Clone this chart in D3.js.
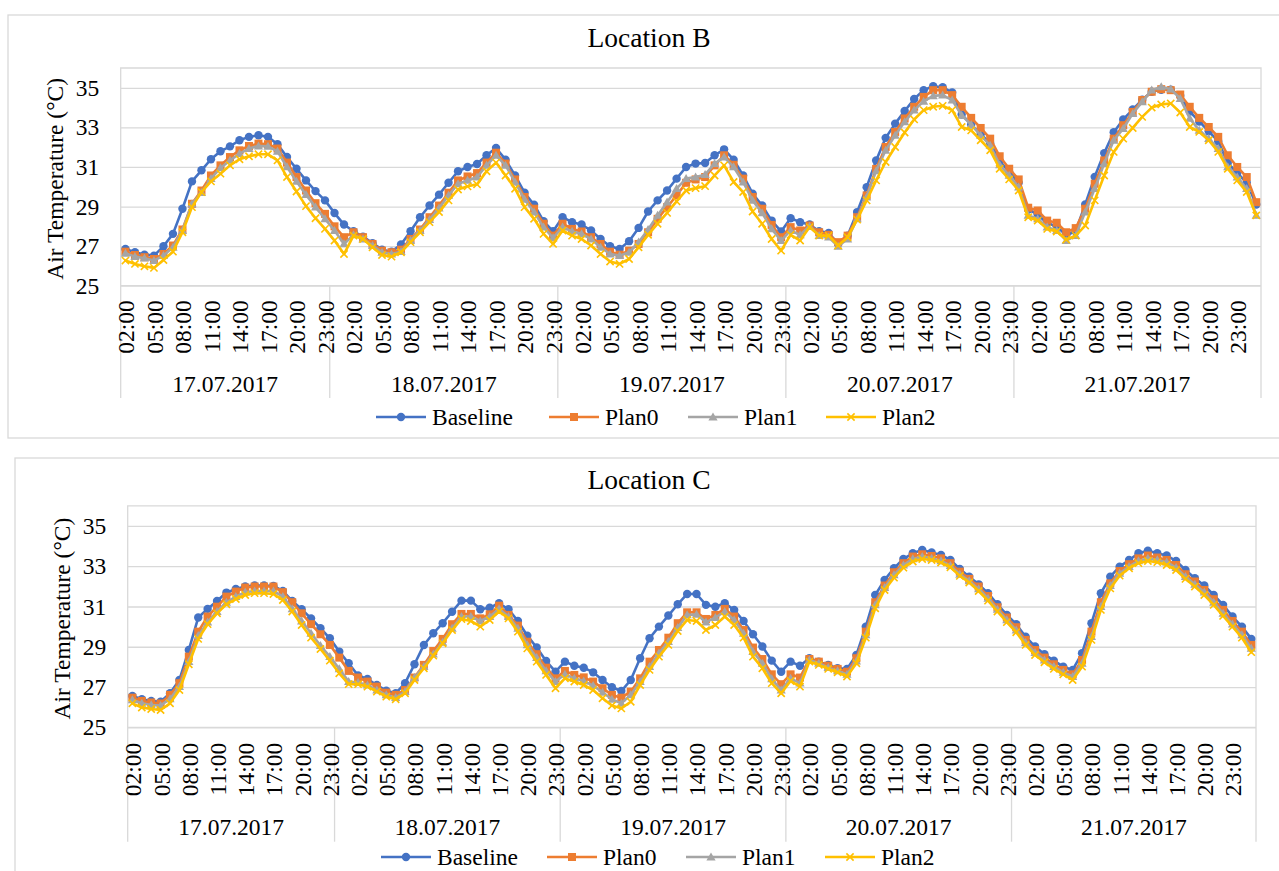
<!DOCTYPE html>
<html>
<head>
<meta charset="utf-8">
<script src="https://cdn.jsdelivr.net/npm/d3@7"></script>
<style>
  html, body { margin: 0; padding: 0; background: #ffffff; }
  svg { display: block; }
</style>
</head>
<body>
<svg id="chart" width="1279" height="871"></svg>
<script>
// ---- categories: hourly readings grouped by day ----
const days = ["17.07.2017", "18.07.2017", "19.07.2017", "20.07.2017", "21.07.2017"];
const dayCounts = [22, 24, 24, 24, 26];
const firstHour = 2;
const labelEvery = 3;
const yTicks = [25, 27, 29, 31, 33, 35];
const yDomain = [25, 36];
const seriesNames = ["Baseline", "Plan0", "Plan1", "Plan2"];

// ---- Location B air temperature (°C) ----
const locBBaseline = [
  26.86, 26.69, 26.57, 26.52, 26.99, 27.62, 28.89, 30.27, 30.83, 31.39,
  31.79, 32.04, 32.35, 32.52, 32.6, 32.52, 32.15, 31.5, 30.91, 30.32,
  29.78, 29.31, 28.67, 28.09, 27.75, 27.48, 27.15, 26.82, 26.72, 27.08,
  27.75, 28.46, 29.05, 29.6, 30.2, 30.78, 31.0, 31.15, 31.59, 31.96,
  31.37, 30.57, 29.7, 29.09, 28.26, 27.75, 28.46, 28.21, 28.09, 27.79,
  27.36, 26.99, 26.86, 27.25, 27.92, 28.75, 29.31, 29.81, 30.41, 31.0,
  31.17, 31.2, 31.59, 31.89, 31.37, 30.57, 29.65, 29.05, 28.29, 27.74,
  28.41, 28.21, 28.09, 27.75, 27.67, 27.11, 27.53, 28.72, 29.98, 31.33,
  32.47, 33.19, 33.83, 34.43, 34.88, 35.08, 35.03, 34.76, 33.65, 33.15,
  32.65, 32.2, 31.3, 30.75, 30.2, 28.85, 28.6, 28.15, 28.0, 27.55,
  27.75, 29.1, 30.5, 31.7, 32.75, 33.4, 33.9, 34.4, 34.8, 34.9,
  34.9, 34.6, 33.8, 33.3, 32.8, 32.3, 31.2, 30.7, 30.2, 29.1
];
const locBPlan0 = [
  26.72, 26.55, 26.44, 26.35, 26.6, 27.03, 27.84, 29.14, 29.81, 30.57,
  31.08, 31.5, 31.84, 32.06, 32.18, 32.15, 31.93, 31.22, 30.49, 29.81,
  29.17, 28.63, 28.0, 27.45, 27.7, 27.45, 27.11, 26.77, 26.69, 26.82,
  27.36, 27.84, 28.46, 29.05, 29.7, 30.32, 30.52, 30.69, 31.22, 31.72,
  31.17, 30.37, 29.48, 28.89, 28.13, 27.53, 28.13, 27.87, 27.74, 27.45,
  27.11, 26.72, 26.57, 26.77, 27.11, 27.7, 28.38, 28.97, 29.56, 30.2,
  30.37, 30.49, 31.08, 31.59, 31.11, 30.41, 29.48, 28.89, 28.07, 27.45,
  27.96, 27.79, 28.04, 27.7, 27.57, 27.2, 27.53, 28.46, 29.56, 30.9,
  32.01, 32.77, 33.45, 34.04, 34.54, 34.88, 34.88, 34.63, 34.04, 33.48,
  32.97, 32.43, 31.54, 30.91, 30.37, 28.94, 28.8, 28.29, 28.18, 27.7,
  27.91, 28.89, 30.15, 31.33, 32.43, 33.11, 33.78, 34.38, 34.8, 34.93,
  34.88, 34.66, 34.04, 33.48, 33.02, 32.52, 31.59, 31.0, 30.49, 29.22
];
const locBPlan1 = [
  26.64, 26.47, 26.39, 26.27, 26.52, 26.94, 27.79, 29.14, 29.7, 30.41,
  30.95, 31.33, 31.67, 31.93, 32.06, 32.04, 31.79, 31.0, 30.27, 29.6,
  28.97, 28.38, 27.79, 27.11, 27.57, 27.36, 27.03, 26.69, 26.6, 26.72,
  27.28, 27.79, 28.34, 28.92, 29.56, 30.15, 30.32, 30.49, 31.08, 31.59,
  31.08, 30.24, 29.36, 28.72, 27.96, 27.42, 27.96, 27.74, 27.62, 27.36,
  26.94, 26.6, 26.52, 26.69, 27.2, 27.84, 28.55, 29.22, 29.9, 30.41,
  30.49, 30.61, 31.17, 31.5, 31.0, 30.24, 29.31, 28.68, 27.87, 27.28,
  27.79, 27.57, 28.0, 27.53, 27.45, 26.99, 27.36, 28.38, 29.48, 30.8,
  31.84, 32.6, 33.28, 33.87, 34.32, 34.59, 34.63, 34.38, 33.61, 33.14,
  32.6, 32.09, 31.11, 30.57, 29.98, 28.55, 28.38, 27.96, 27.79, 27.28,
  27.53, 28.72, 29.9, 31.17, 32.35, 32.94, 33.7, 34.29, 34.88, 35.05,
  34.93, 34.46, 33.45, 32.85, 32.43, 31.93, 31.0, 30.49, 29.9, 28.55
];
const locBPlan2 = [
  26.27, 26.1, 25.98, 25.9, 26.3, 26.72, 27.7, 28.97, 29.73, 30.27,
  30.66, 31.08, 31.39, 31.54, 31.64, 31.64, 31.33, 30.49, 29.76, 29.02,
  28.41, 27.87, 27.28, 26.6, 27.53, 27.36, 26.94, 26.55, 26.47, 26.69,
  27.2, 27.7, 28.21, 28.72, 29.31, 29.86, 30.02, 30.12, 30.78, 31.22,
  30.57, 29.9, 28.97, 28.38, 27.62, 27.11, 27.79, 27.53, 27.36, 27.03,
  26.6, 26.22, 26.1, 26.35, 26.94, 27.57, 28.13, 28.68, 29.26, 29.81,
  29.93, 30.03, 30.57, 31.08, 30.24, 29.73, 28.75, 28.13, 27.36, 26.77,
  27.57, 27.28, 27.96, 27.53, 27.53, 27.03, 27.45, 28.34, 29.31, 30.32,
  31.25, 32.01, 32.74, 33.4, 33.87, 34.04, 34.09, 33.87, 33.02, 32.85,
  32.35, 31.84, 30.91, 30.37, 29.81, 28.46, 28.29, 27.87, 27.74, 27.33,
  27.53, 28.04, 29.31, 30.57, 31.76, 32.43, 32.97, 33.53, 34.0, 34.16,
  34.21, 33.75, 33.02, 32.77, 32.35, 31.76, 30.91, 30.32, 29.73, 28.55
];

// ---- Location C air temperature (°C) ----
const locCBaseline = [
  26.56, 26.39, 26.31, 26.27, 26.69, 27.35, 28.84, 30.45, 30.88, 31.27,
  31.69, 31.87, 31.99, 32.04, 32.04, 32.02, 31.77, 31.27, 30.86, 30.41,
  29.92, 29.42, 28.76, 28.18, 27.57, 27.4, 27.1, 26.82, 26.69, 27.19,
  28.13, 29.09, 29.67, 30.17, 30.74, 31.29, 31.29, 30.86, 30.94, 31.16,
  30.86, 30.28, 29.55, 28.96, 28.29, 27.76, 28.26, 28.06, 27.96, 27.73,
  27.35, 26.99, 26.8, 27.35, 28.43, 29.42, 30.0, 30.55, 31.11, 31.62,
  31.62, 31.08, 30.99, 31.16, 30.83, 30.28, 29.62, 29.01, 28.31, 27.76,
  28.26, 28.06, 28.43, 28.26, 28.1, 27.93, 27.9, 28.59, 30.0, 31.57,
  32.32, 32.9, 33.36, 33.64, 33.81, 33.68, 33.56, 33.31, 32.86, 32.48,
  32.1, 31.66, 31.11, 30.58, 30.12, 29.5, 29.01, 28.63, 28.31, 28.01,
  27.85, 28.68, 30.17, 31.66, 32.48, 32.98, 33.31, 33.64, 33.77, 33.64,
  33.53, 33.26, 32.81, 32.4, 32.04, 31.57, 31.08, 30.5, 30.0, 29.39
];
const locCPlan0 = [
  26.47, 26.31, 26.23, 26.18, 26.61, 27.19, 28.51, 29.75, 30.5, 30.99,
  31.49, 31.74, 31.94, 31.99, 31.99, 31.99, 31.71, 31.21, 30.66, 30.12,
  29.62, 29.09, 28.46, 27.8, 27.47, 27.27, 27.02, 26.72, 26.61, 26.85,
  27.47, 28.1, 28.79, 29.39, 30.12, 30.63, 30.63, 30.41, 30.61, 31.04,
  30.58, 30.05, 29.25, 28.63, 27.96, 27.43, 27.8, 27.6, 27.48, 27.27,
  26.94, 26.61, 26.47, 26.77, 27.43, 28.26, 28.84, 29.45, 30.17, 30.71,
  30.71, 30.38, 30.58, 30.88, 30.5, 29.83, 28.96, 28.39, 27.63, 27.14,
  27.63, 27.47, 28.39, 28.26, 28.06, 27.9, 27.76, 28.43, 29.75, 31.21,
  32.04, 32.7, 33.15, 33.48, 33.59, 33.51, 33.39, 33.15, 32.73, 32.37,
  31.99, 31.52, 30.96, 30.45, 29.97, 29.34, 28.84, 28.46, 28.13, 27.85,
  27.63, 28.34, 29.75, 31.21, 32.15, 32.76, 33.1, 33.39, 33.53, 33.43,
  33.31, 33.06, 32.6, 32.24, 31.82, 31.36, 30.83, 30.28, 29.75, 29.09
];
const locCPlan1 = [
  26.36, 26.19, 26.11, 26.08, 26.41, 27.02, 28.26, 29.55, 30.22, 30.75,
  31.21, 31.49, 31.71, 31.77, 31.77, 31.77, 31.49, 30.88, 30.28, 29.67,
  29.06, 28.51, 27.9, 27.27, 27.22, 27.1, 26.85, 26.61, 26.47, 26.77,
  27.47, 28.01, 28.63, 29.22, 29.92, 30.5, 30.5, 30.28, 30.5, 30.88,
  30.5, 29.92, 29.09, 28.46, 27.8, 27.27, 27.63, 27.43, 27.3, 27.07,
  26.74, 26.39, 26.19, 26.61, 27.27, 28.01, 28.68, 29.25, 29.95, 30.58,
  30.61, 30.22, 30.45, 30.75, 30.33, 29.67, 28.76, 28.18, 27.4, 26.85,
  27.43, 27.19, 28.34, 28.18, 27.96, 27.8, 27.63, 28.29, 29.59, 31.08,
  31.94, 32.57, 33.06, 33.36, 33.48, 33.39, 33.26, 33.03, 32.6, 32.27,
  31.87, 31.41, 30.86, 30.33, 29.83, 29.21, 28.71, 28.34, 28.01, 27.73,
  27.52, 28.18, 29.5, 30.99, 32.04, 32.65, 32.98, 33.26, 33.39, 33.31,
  33.2, 32.93, 32.48, 32.1, 31.71, 31.21, 30.66, 30.12, 29.59, 28.92
];
const locCPlan2 = [
  26.19, 25.98, 25.91, 25.86, 26.19, 26.85, 28.13, 29.39, 30.12, 30.66,
  31.11, 31.37, 31.57, 31.66, 31.66, 31.62, 31.32, 30.75, 30.08, 29.45,
  28.89, 28.31, 27.68, 27.14, 27.14, 27.02, 26.77, 26.52, 26.39, 26.69,
  27.35, 27.93, 28.56, 29.17, 29.83, 30.38, 30.28, 30.0, 30.33, 30.75,
  30.41, 29.75, 28.92, 28.26, 27.6, 26.94, 27.43, 27.27, 27.1, 26.85,
  26.44, 26.08, 25.94, 26.27, 27.1, 27.85, 28.51, 29.09, 29.78, 30.33,
  30.28, 29.83, 30.08, 30.5, 30.08, 29.45, 28.51, 27.93, 27.19, 26.69,
  27.3, 27.02, 28.26, 28.1, 27.9, 27.73, 27.52, 28.18, 29.45, 30.91,
  31.82, 32.43, 32.93, 33.23, 33.36, 33.31, 33.18, 32.95, 32.52, 32.19,
  31.77, 31.29, 30.75, 30.22, 29.72, 29.09, 28.59, 28.23, 27.9, 27.63,
  27.35, 28.01, 29.34, 30.83, 31.9, 32.53, 32.9, 33.15, 33.26, 33.2,
  33.06, 32.81, 32.37, 31.99, 31.57, 31.08, 30.53, 30.0, 29.45, 28.73
];

// ---- build the hourly category sequence ----
const categories = [];
{
  let h = firstHour;
  days.forEach((day, di) => {
    for (let k = 0; k < dayCounts[di]; k++, h++) {
      categories.push({ day: di, label: String(h % 24).padStart(2, "0") + ":00" });
    }
  });
}
const dayStarts = [];
dayCounts.reduce((acc, n) => { dayStarts.push(acc); return acc + n; }, 0);

// ---- styling ----
const FONT = "'Liberation Serif', 'Times New Roman', Times, serif";
const GRID = "#D9D9D9";
const seriesStyle = [
  { color: "#4472C4", marker: "circle" },
  { color: "#ED7D31", marker: "square" },
  { color: "#A5A5A5", marker: "triangle" },
  { color: "#FFC000", marker: "cross" }
];

const svg = d3.select("#chart");

function drawMarker(sel, type, color) {
  if (type === "circle") {
    sel.append("circle").attr("r", 4.2).attr("fill", color);
  } else if (type === "square") {
    sel.append("rect").attr("x", -4).attr("y", -4).attr("width", 8).attr("height", 8).attr("fill", color);
  } else if (type === "triangle") {
    sel.append("path").attr("d", "M0,-4.6L4.6,3.4L-4.6,3.4Z").attr("fill", color);
  } else {
    sel.append("path").attr("d", "M-3.6,-3.6L3.6,3.6M-3.6,3.6L3.6,-3.6")
      .attr("stroke", color).attr("stroke-width", 1.6).attr("fill", "none");
  }
}

function drawChart(cfg) {
  const root = svg.append("g");

  // outer chart frame
  root.append("rect")
    .attr("x", cfg.frame[0]).attr("y", cfg.frame[1])
    .attr("width", cfg.frame[2]).attr("height", cfg.frame[3])
    .attr("fill", "#fff").attr("stroke", GRID).attr("stroke-width", 1.3);

  // title
  root.append("text")
    .attr("x", cfg.titleX).attr("y", cfg.titleY)
    .attr("text-anchor", "middle")
    .style("font-family", FONT).style("font-size", "27.5px").attr("fill", "#000")
    .text(cfg.title);

  const x = d3.scaleBand().domain(d3.range(categories.length)).range([cfg.left, cfg.right]);
  const y = d3.scaleLinear().domain(yDomain).range([cfg.bottom, cfg.top]);
  const bw = x.bandwidth();
  const cx = i => x(i) + bw / 2;

  // horizontal gridlines
  const grid = root.append("g").attr("transform", `translate(${cfg.left},0)`)
    .call(d3.axisLeft(y).tickValues(yTicks).tickSize(-(cfg.right - cfg.left)).tickFormat(""));
  grid.select(".domain").remove();
  grid.selectAll("line").attr("stroke", GRID).attr("stroke-width", 1.3);

  // plot area border
  root.append("path")
    .attr("d", `M${cfg.left},${cfg.catBottom}V${cfg.top}H${cfg.right}V${cfg.catBottom}`)
    .attr("fill", "none").attr("stroke", GRID).attr("stroke-width", 1.3);
  root.append("line")
    .attr("x1", cfg.left).attr("x2", cfg.right).attr("y1", cfg.bottom).attr("y2", cfg.bottom)
    .attr("stroke", GRID).attr("stroke-width", 1.3);

  // day separators on the category axis
  root.selectAll(".sep").data(dayStarts.slice(1)).join("line")
    .attr("x1", d => x(d)).attr("x2", d => x(d))
    .attr("y1", cfg.bottom).attr("y2", cfg.catBottom)
    .attr("stroke", GRID).attr("stroke-width", 1.3);

  // value axis
  const yAxis = root.append("g").attr("transform", `translate(${cfg.left},0)`)
    .call(d3.axisLeft(y).tickValues(yTicks).tickSize(0).tickPadding(21.5));
  yAxis.select(".domain").remove();
  yAxis.selectAll("text").style("font-family", FONT).style("font-size", "23.5px").attr("fill", "#000");

  // axis title
  root.append("text")
    .attr("transform", `translate(${cfg.yTitleX},${(cfg.top + cfg.bottom) / 2 + 2}) rotate(-90)`)
    .attr("text-anchor", "middle").attr("dy", "0.35em")
    .style("font-family", FONT).style("font-size", "23.5px").attr("fill", "#000")
    .text("Air Temperature (°C)");

  // hour labels
  const tickIdx = d3.range(0, categories.length, labelEvery);
  const xAxis = root.append("g").attr("transform", `translate(0,${cfg.bottom})`)
    .call(d3.axisBottom(x).tickValues(tickIdx).tickSize(0).tickFormat(i => categories[i].label));
  xAxis.select(".domain").remove();
  xAxis.selectAll("text")
    .attr("transform", "rotate(-90)")
    .attr("text-anchor", "end")
    .attr("x", -cfg.tickGap).attr("y", 0).attr("dy", "0.38em")
    .style("font-family", FONT).style("font-size", "23.5px").attr("fill", "#000");

  // day labels
  root.selectAll(".day").data(days).join("text")
    .attr("x", (d, i) => (x(dayStarts[i]) + x(dayStarts[i] + dayCounts[i] - 1) + bw) / 2)
    .attr("y", cfg.dayY)
    .attr("text-anchor", "middle")
    .style("font-family", FONT).style("font-size", "23.5px").attr("fill", "#000")
    .text(d => d);

  // series lines with markers
  const line = d3.line().x((d, i) => cx(i)).y(d => y(d));
  cfg.series.forEach((vals, si) => {
    const st = seriesStyle[si];
    const sg = root.append("g");
    sg.append("path").datum(vals).attr("d", line)
      .attr("fill", "none").attr("stroke", st.color).attr("stroke-width", 2.6)
      .attr("stroke-linejoin", "round").attr("stroke-linecap", "round");
    sg.selectAll("g.m").data(vals).join("g")
      .attr("transform", (d, i) => `translate(${cx(i)},${y(d)})`)
      .each(function () { drawMarker(d3.select(this), st.marker, st.color); });
  });

  // legend
  seriesNames.forEach((name, si) => {
    const st = seriesStyle[si];
    const tx = cfg.legendX[si];
    const lg = root.append("g");
    lg.append("line").attr("x1", tx - 56).attr("x2", tx - 6)
      .attr("y1", cfg.legendY).attr("y2", cfg.legendY)
      .attr("stroke", st.color).attr("stroke-width", 2.6);
    const mg = lg.append("g").attr("transform", `translate(${tx - 31},${cfg.legendY})`);
    drawMarker(mg, st.marker, st.color);
    lg.append("text").attr("x", tx).attr("y", cfg.legendY).attr("dy", "0.33em")
      .style("font-family", FONT).style("font-size", "23.5px").attr("fill", "#000")
      .text(name);
  });
}

drawChart({
  title: "Location B",
  frame: [8, 15, 1300, 423],
  titleX: 649, titleY: 46.5,
  left: 120.7, right: 1261, top: 68, bottom: 285.7, catBottom: 398,
  tickGap: 14.5, dayY: 391.5, yTitleX: 55,
  legendY: 417, legendX: [432, 605, 744, 882],
  series: [locBBaseline, locBPlan0, locBPlan1, locBPlan2]
});

drawChart({
  title: "Location C",
  frame: [15, 458, 1300, 500],
  titleX: 649, titleY: 489,
  left: 127.7, right: 1256, top: 505.8, bottom: 727.3, catBottom: 841.7,
  tickGap: 15.5, dayY: 835, yTitleX: 62,
  legendY: 857, legendX: [437, 603, 742, 881],
  series: [locCBaseline, locCPlan0, locCPlan1, locCPlan2]
});
</script>
</body>
</html>
